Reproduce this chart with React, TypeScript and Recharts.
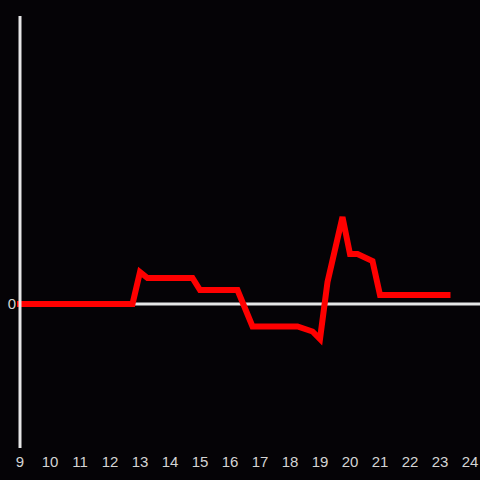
import React from "react";
import { LineChart, Line, XAxis, YAxis, ReferenceLine } from "recharts";

const hours = [9, 12.75, 13.0, 13.25, 14.75, 15.0, 16.25, 16.75, 18.25, 18.75, 19.0, 19.25, 19.75, 20.0, 20.25, 20.75, 21.0, 23.25];
const values = [0, 0, 3.2, 2.6, 2.6, 1.4, 1.4, -2.25, -2.25, -2.75, -3.5, 2.2, 8.7, 5.0, 5.0, 4.3, 0.9, 0.9];
const xTicks = [9, 10, 11, 12, 13, 14, 15, 16, 17, 18, 19, 20, 21, 22, 23, 24];
const yTicks = [0];

const data = hours.map((h, i) => ({ h, v: values[i] }));

export default function App() {
  return (
    <div style={{ position: "absolute", left: 0, top: 0, width: 480, height: 480, background: "#050306" }}>
      <LineChart width={480} height={480} data={data} margin={{ top: 16, right: 0, bottom: 0, left: 0 }}>
        <XAxis
          dataKey="h"
          type="number"
          domain={[9, 24 + 1 / 3]}
          ticks={xTicks}
          axisLine={false}
          tickLine={false}
          tick={{ fill: "#d4d4d4", fontSize: 15, fontFamily: "Liberation Sans, Arial, sans-serif" }}
          height={32}
          interval={0}
        />
        <YAxis
          type="number"
          domain={[-14.4, 28.8]}
          ticks={yTicks}
          width={20}
          tickLine={false}
          tickSize={2}
          tickMargin={2}
          axisLine={{ stroke: "#e6e6e6", strokeWidth: 3 }}
          tick={{ fill: "#d4d4d4", fontSize: 15, fontFamily: "Liberation Sans, Arial, sans-serif" }}
        />
        <ReferenceLine y={0} stroke="#e6e6e6" strokeWidth={3} />
        <Line
          dataKey="v"
          type="linear"
          stroke="#ff0000"
          strokeWidth={6}
          strokeLinecap="square"
          dot={false}
          activeDot={false}
          isAnimationActive={false}
        />
      </LineChart>
    </div>
  );
}
